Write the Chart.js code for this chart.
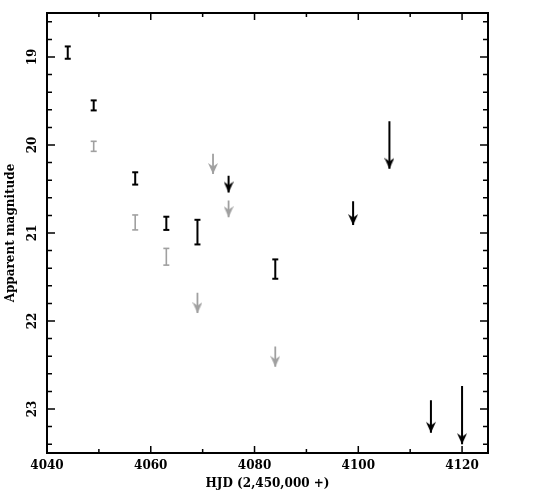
<!DOCTYPE html>
<html>
<head>
<meta charset="utf-8">
<script src="https://cdn.jsdelivr.net/npm/chart.js@4.4.0/dist/chart.umd.min.js"></script>
<style>
  html, body { margin: 0; padding: 0; background: #fff; }
  #wrap { width: 560px; height: 495px; }
</style>
</head>
<body>
<div id="wrap"><canvas id="lc"></canvas></div>
<script>
// detections with error bars (HJD - 2,450,000, magnitude, 1-sigma)
const blackX = [4044, 4049, 4057, 4063, 4069, 4084];
const blackMag = [18.95, 19.55, 20.38, 20.89, 20.99, 21.41];
const blackErr = [0.07, 0.057, 0.07, 0.075, 0.14, 0.11];

const grayX = [4049, 4057, 4063];
const grayMag = [20.015, 20.88, 21.27];
const grayErr = [0.057, 0.085, 0.095];

// upper limits, drawn as arrows from -> to
const blackArrowX = [4075, 4099, 4106, 4114, 4120];
const blackArrowFrom = [20.35, 20.64, 19.73, 22.90, 22.74];
const blackArrowTo = [20.54, 20.91, 20.27, 23.27, 23.40];

const grayArrowX = [4072, 4075, 4069, 4084];
const grayArrowFrom = [20.10, 20.63, 21.68, 22.29];
const grayArrowTo = [20.33, 20.82, 21.91, 22.52];

const xTicks = [4040, 4060, 4080, 4100, 4120];
const yTicks = [19, 20, 21, 22, 23];

const BLACK = "#000";
const GRAY = "#a0a0a0";
const FONT = { family: "'DejaVu Serif', serif", size: 12, weight: "bold" };

const bars = (xs, mags, errs) =>
  xs.flatMap((x, i) => [{ x, y: mags[i] - errs[i] }, { x, y: mags[i] + errs[i] }, { x, y: null }]);

const arrows = (xs, from, to) =>
  xs.flatMap((x, i) => [{ x, y: from[i] }, { x, y: to[i] }, { x, y: null }]);

// arrow head image, tip sits at the centre of the canvas
const makeHead = (color) => {
  const c = document.createElement("canvas");
  c.width = 10;
  c.height = 24;
  const g = c.getContext("2d");
  g.fillStyle = color;
  g.beginPath();
  g.moveTo(5, 12);
  g.lineTo(0, 1);
  g.lineTo(5, 4.5);
  g.lineTo(10, 1);
  g.closePath();
  g.fill();
  return c;
};

const barSet = (data, color, width) => ({
  data,
  showLine: true,
  spanGaps: false,
  borderColor: color,
  borderWidth: width,
  pointStyle: "line",
  pointRadius: 3,
  pointBorderColor: color,
  pointBorderWidth: width,
  pointBackgroundColor: color
});

const arrowSet = (data, color, width) => {
  const head = makeHead(color);
  return {
    data,
    showLine: true,
    spanGaps: false,
    borderColor: color,
    borderWidth: width,
    pointStyle: (ctx) => (ctx.dataIndex % 3 === 1 ? head : "circle"),
    pointRadius: (ctx) => (ctx.dataIndex % 3 === 1 ? 5 : 0)
  };
};

const isMajorY = (v) => Math.abs(v - Math.round(v)) < 1e-6;

const framePlugin = {
  id: "frame",
  afterDraw(chart) {
    const { ctx, chartArea: a, scales: { x, y } } = chart;
    ctx.save();
    ctx.strokeStyle = BLACK;
    ctx.lineWidth = 2;
    ctx.strokeRect(a.left, a.top, a.right - a.left, a.bottom - a.top);

    ctx.lineWidth = 1.5;
    ctx.beginPath();
    x.ticks.forEach((t) => {
      const px = x.getPixelForValue(t.value);
      const len = xTicks.includes(t.value) ? 7 : 4;
      ctx.moveTo(px, a.bottom);
      ctx.lineTo(px, a.bottom - len);
      ctx.moveTo(px, a.top);
      ctx.lineTo(px, a.top + len);
    });
    y.ticks.forEach((t) => {
      const py = y.getPixelForValue(t.value);
      const len = isMajorY(t.value) ? 8 : 5;
      ctx.moveTo(a.left, py);
      ctx.lineTo(a.left + len, py);
      ctx.moveTo(a.right, py);
      ctx.lineTo(a.right - len, py);
    });
    ctx.stroke();

    // y labels are rotated like the original plot
    ctx.font = "bold 12px 'DejaVu Serif', serif";
    ctx.fillStyle = BLACK;
    ctx.textAlign = "center";
    ctx.textBaseline = "middle";
    yTicks.forEach((v) => {
      ctx.save();
      ctx.translate(a.left - 14, y.getPixelForValue(v));
      ctx.rotate(-Math.PI / 2);
      ctx.fillText(String(v), 0, 0);
      ctx.restore();
    });
    ctx.restore();
  }
};

new Chart(document.getElementById("lc"), {
  type: "scatter",
  data: {
    datasets: [
      barSet(bars(grayX, grayMag, grayErr), GRAY, 1.6),
      barSet(bars(blackX, blackMag, blackErr), BLACK, 2),
      arrowSet(arrows(grayArrowX, grayArrowFrom, grayArrowTo), GRAY, 1.8),
      arrowSet(arrows(blackArrowX, blackArrowFrom, blackArrowTo), BLACK, 2)
    ]
  },
  options: {
    responsive: true,
    maintainAspectRatio: false,
    animation: false,
    layout: { padding: { top: 13, right: 72, left: 0, bottom: 0 } },
    plugins: { legend: { display: false }, tooltip: { enabled: false } },
    scales: {
      x: {
        type: "linear",
        min: 4040,
        max: 4125,
        grid: { display: false, drawTicks: false },
        border: { display: false },
        ticks: {
          stepSize: 10,
          includeBounds: false,
          autoSkip: false,
          maxRotation: 0,
          padding: 6,
          color: BLACK,
          font: FONT,
          callback: (v) => (xTicks.includes(v) ? String(v) : "")
        },
        title: { display: true, text: "HJD (2,450,000 +)", color: BLACK, font: FONT, padding: { top: 2, bottom: 4 } },
        afterFit: (s) => { s.height = 42; }
      },
      y: {
        type: "linear",
        reverse: true,
        min: 18.5,
        max: 23.5,
        grid: { display: false, drawTicks: false },
        border: { display: false },
        ticks: { display: false },
        afterBuildTicks: (s) => {
          const t = [];
          for (let k = 93; k <= 117; k++) t.push({ value: k / 5 });
          s.ticks = t;
        },
        title: { display: true, text: "Apparent magnitude", color: BLACK, font: FONT, padding: { top: 4, bottom: 4 } },
        afterFit: (s) => { s.width = 47; }
      }
    }
  },
  plugins: [framePlugin]
});
</script>
</body>
</html>
